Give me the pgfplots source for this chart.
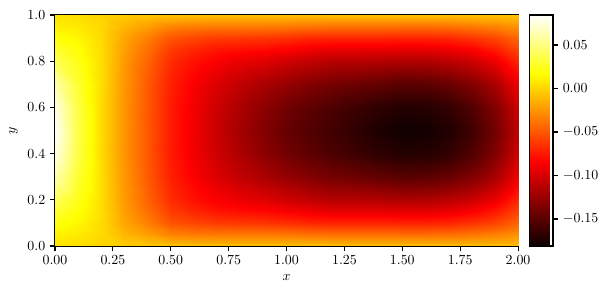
\documentclass[border=0pt]{standalone}
\usepackage{pgfplots}
\pgfplotsset{compat=1.18}
\begin{document}
\begin{tikzpicture}
\path[use as bounding box] (-39.6pt,-36pt) rectangle (396.7pt,177.1pt);
\begin{axis}[
  at={(0,0)}, anchor=south west,
  scale only axis, width=333.4pt, height=166.3pt,
  xmin=0, xmax=2, ymin=0, ymax=1,
  xtick={0,0.25,0.5,0.75,1,1.25,1.5,1.75,2},
  ytick={0,0.2,0.4,0.6,0.8,1},
  xticklabel style={/pgf/number format/.cd, fixed, fixed zerofill, precision=2},
  yticklabel style={/pgf/number format/.cd, fixed, fixed zerofill, precision=1},
  tick align=outside, tick pos=left, major tick length=3.5pt,
  tick style={line width=0.8pt, black},
  axis line style={line width=0.8pt},
  xlabel={$x$}, ylabel={$y$},
  colormap={hot}{rgb(0cm)=(0.0416,0,0) rgb(3.65cm)=(1,0,0) rgb(7.46cm)=(1,1,0) rgb(10cm)=(1,1,1)},
  point meta min=-0.181, point meta max=0.0845,
  colorbar,
  colorbar style={
    at={(parent axis.north east)}, anchor=north west, xshift=0pt,
    width=16.6pt,
    ytick={-0.15,-0.1,-0.05,0,0.05},
    yticklabel style={/pgf/number format/.cd, fixed, fixed zerofill, precision=2},
    ytick pos=right, yticklabel pos=right,
    tick align=outside, major tick length=3.5pt,
    tick style={line width=0.8pt, black},
    axis line style={line width=0.8pt},
  },
]
\addplot[surf, shader=interp, mesh/cols=21, point meta=explicit] coordinates {
(0,0)[0.006] (0.1,0)[0.004] (0.2,0)[0.000] (0.3,0)[-0.003] (0.4,0)[-0.005] (0.5,0)[-0.007] (0.6,0)[-0.008] (0.7,0)[-0.008] (0.8,0)[-0.008] (0.9,0)[-0.008] (1.0,0)[-0.008] (1.1,0)[-0.008] (1.2,0)[-0.008] (1.3,0)[-0.008] (1.4,0)[-0.008] (1.5,0)[-0.008] (1.6,0)[-0.008] (1.7,0)[-0.008] (1.8,0)[-0.008] (1.9,0)[-0.008] (2.0,0)[-0.008]

(0,0.05)[0.012] (0.1,0.05)[0.009] (0.2,0.05)[0.002] (0.3,0.05)[-0.012] (0.4,0.05)[-0.022] (0.5,0.05)[-0.033] (0.6,0.05)[-0.036] (0.7,0.05)[-0.037] (0.8,0.05)[-0.037] (0.9,0.05)[-0.037] (1.0,0.05)[-0.038] (1.1,0.05)[-0.040] (1.2,0.05)[-0.041] (1.3,0.05)[-0.041] (1.4,0.05)[-0.041] (1.5,0.05)[-0.042] (1.6,0.05)[-0.042] (1.7,0.05)[-0.041] (1.8,0.05)[-0.038] (1.9,0.05)[-0.034] (2.0,0.05)[-0.027]

(0,0.1)[0.020] (0.1,0.1)[0.014] (0.2,0.1)[0.003] (0.3,0.1)[-0.018] (0.4,0.1)[-0.034] (0.5,0.1)[-0.051] (0.6,0.1)[-0.057] (0.7,0.1)[-0.061] (0.8,0.1)[-0.062] (0.9,0.1)[-0.063] (1.0,0.1)[-0.066] (1.1,0.1)[-0.069] (1.2,0.1)[-0.070] (1.3,0.1)[-0.070] (1.4,0.1)[-0.070] (1.5,0.1)[-0.071] (1.6,0.1)[-0.071] (1.7,0.1)[-0.069] (1.8,0.1)[-0.064] (1.9,0.1)[-0.057] (2.0,0.1)[-0.044]

(0,0.15)[0.030] (0.1,0.15)[0.019] (0.2,0.15)[0.004] (0.3,0.15)[-0.021] (0.4,0.15)[-0.041] (0.5,0.15)[-0.061] (0.6,0.15)[-0.070] (0.7,0.15)[-0.077] (0.8,0.15)[-0.080] (0.9,0.15)[-0.082] (1.0,0.15)[-0.086] (1.1,0.15)[-0.091] (1.2,0.15)[-0.094] (1.3,0.15)[-0.094] (1.4,0.15)[-0.094] (1.5,0.15)[-0.095] (1.6,0.15)[-0.095] (1.7,0.15)[-0.092] (1.8,0.15)[-0.086] (1.9,0.15)[-0.075] (2.0,0.15)[-0.057]

(0,0.2)[0.040] (0.1,0.2)[0.023] (0.2,0.2)[0.004] (0.3,0.2)[-0.023] (0.4,0.2)[-0.045] (0.5,0.2)[-0.067] (0.6,0.2)[-0.078] (0.7,0.2)[-0.086] (0.8,0.2)[-0.092] (0.9,0.2)[-0.096] (1.0,0.2)[-0.103] (1.1,0.2)[-0.108] (1.2,0.2)[-0.113] (1.3,0.2)[-0.113] (1.4,0.2)[-0.114] (1.5,0.2)[-0.116] (1.6,0.2)[-0.115] (1.7,0.2)[-0.111] (1.8,0.2)[-0.104] (1.9,0.2)[-0.091] (2.0,0.2)[-0.069]

(0,0.3)[0.063] (0.1,0.3)[0.030] (0.2,0.3)[0.004] (0.3,0.3)[-0.024] (0.4,0.3)[-0.049] (0.5,0.3)[-0.072] (0.6,0.3)[-0.086] (0.7,0.3)[-0.098] (0.8,0.3)[-0.109] (0.9,0.3)[-0.117] (1.0,0.3)[-0.126] (1.1,0.3)[-0.133] (1.2,0.3)[-0.139] (1.3,0.3)[-0.142] (1.4,0.3)[-0.146] (1.5,0.3)[-0.150] (1.6,0.3)[-0.149] (1.7,0.3)[-0.144] (1.8,0.3)[-0.134] (1.9,0.3)[-0.118] (2.0,0.3)[-0.090]

(0,0.4)[0.077] (0.1,0.4)[0.035] (0.2,0.4)[0.003] (0.3,0.4)[-0.025] (0.4,0.4)[-0.050] (0.5,0.4)[-0.074] (0.6,0.4)[-0.089] (0.7,0.4)[-0.104] (0.8,0.4)[-0.117] (0.9,0.4)[-0.129] (1.0,0.4)[-0.140] (1.1,0.4)[-0.148] (1.2,0.4)[-0.155] (1.3,0.4)[-0.161] (1.4,0.4)[-0.167] (1.5,0.4)[-0.171] (1.6,0.4)[-0.170] (1.7,0.4)[-0.165] (1.8,0.4)[-0.153] (1.9,0.4)[-0.134] (2.0,0.4)[-0.104]

(0,0.5)[0.083] (0.1,0.5)[0.036] (0.2,0.5)[0.003] (0.3,0.5)[-0.025] (0.4,0.5)[-0.050] (0.5,0.5)[-0.074] (0.6,0.5)[-0.090] (0.7,0.5)[-0.106] (0.8,0.5)[-0.120] (0.9,0.5)[-0.133] (1.0,0.5)[-0.145] (1.1,0.5)[-0.153] (1.2,0.5)[-0.160] (1.3,0.5)[-0.167] (1.4,0.5)[-0.174] (1.5,0.5)[-0.179] (1.6,0.5)[-0.178] (1.7,0.5)[-0.172] (1.8,0.5)[-0.160] (1.9,0.5)[-0.140] (2.0,0.5)[-0.110]

(0,0.6)[0.077] (0.1,0.6)[0.035] (0.2,0.6)[0.003] (0.3,0.6)[-0.025] (0.4,0.6)[-0.050] (0.5,0.6)[-0.074] (0.6,0.6)[-0.089] (0.7,0.6)[-0.104] (0.8,0.6)[-0.117] (0.9,0.6)[-0.129] (1.0,0.6)[-0.140] (1.1,0.6)[-0.148] (1.2,0.6)[-0.155] (1.3,0.6)[-0.161] (1.4,0.6)[-0.167] (1.5,0.6)[-0.171] (1.6,0.6)[-0.170] (1.7,0.6)[-0.165] (1.8,0.6)[-0.153] (1.9,0.6)[-0.134] (2.0,0.6)[-0.104]

(0,0.7)[0.063] (0.1,0.7)[0.030] (0.2,0.7)[0.004] (0.3,0.7)[-0.024] (0.4,0.7)[-0.049] (0.5,0.7)[-0.072] (0.6,0.7)[-0.086] (0.7,0.7)[-0.098] (0.8,0.7)[-0.109] (0.9,0.7)[-0.117] (1.0,0.7)[-0.126] (1.1,0.7)[-0.133] (1.2,0.7)[-0.139] (1.3,0.7)[-0.142] (1.4,0.7)[-0.146] (1.5,0.7)[-0.150] (1.6,0.7)[-0.149] (1.7,0.7)[-0.144] (1.8,0.7)[-0.134] (1.9,0.7)[-0.118] (2.0,0.7)[-0.090]

(0,0.8)[0.040] (0.1,0.8)[0.023] (0.2,0.8)[0.004] (0.3,0.8)[-0.023] (0.4,0.8)[-0.045] (0.5,0.8)[-0.067] (0.6,0.8)[-0.078] (0.7,0.8)[-0.086] (0.8,0.8)[-0.092] (0.9,0.8)[-0.096] (1.0,0.8)[-0.103] (1.1,0.8)[-0.108] (1.2,0.8)[-0.113] (1.3,0.8)[-0.113] (1.4,0.8)[-0.114] (1.5,0.8)[-0.116] (1.6,0.8)[-0.115] (1.7,0.8)[-0.111] (1.8,0.8)[-0.104] (1.9,0.8)[-0.091] (2.0,0.8)[-0.069]

(0,0.85)[0.030] (0.1,0.85)[0.019] (0.2,0.85)[0.004] (0.3,0.85)[-0.021] (0.4,0.85)[-0.041] (0.5,0.85)[-0.061] (0.6,0.85)[-0.070] (0.7,0.85)[-0.077] (0.8,0.85)[-0.080] (0.9,0.85)[-0.082] (1.0,0.85)[-0.086] (1.1,0.85)[-0.091] (1.2,0.85)[-0.094] (1.3,0.85)[-0.094] (1.4,0.85)[-0.094] (1.5,0.85)[-0.095] (1.6,0.85)[-0.095] (1.7,0.85)[-0.092] (1.8,0.85)[-0.086] (1.9,0.85)[-0.075] (2.0,0.85)[-0.057]

(0,0.9)[0.020] (0.1,0.9)[0.014] (0.2,0.9)[0.003] (0.3,0.9)[-0.018] (0.4,0.9)[-0.034] (0.5,0.9)[-0.051] (0.6,0.9)[-0.057] (0.7,0.9)[-0.061] (0.8,0.9)[-0.062] (0.9,0.9)[-0.063] (1.0,0.9)[-0.066] (1.1,0.9)[-0.069] (1.2,0.9)[-0.070] (1.3,0.9)[-0.070] (1.4,0.9)[-0.070] (1.5,0.9)[-0.071] (1.6,0.9)[-0.071] (1.7,0.9)[-0.069] (1.8,0.9)[-0.064] (1.9,0.9)[-0.057] (2.0,0.9)[-0.044]

(0,0.95)[0.012] (0.1,0.95)[0.009] (0.2,0.95)[0.002] (0.3,0.95)[-0.012] (0.4,0.95)[-0.022] (0.5,0.95)[-0.033] (0.6,0.95)[-0.036] (0.7,0.95)[-0.037] (0.8,0.95)[-0.037] (0.9,0.95)[-0.037] (1.0,0.95)[-0.038] (1.1,0.95)[-0.040] (1.2,0.95)[-0.041] (1.3,0.95)[-0.041] (1.4,0.95)[-0.041] (1.5,0.95)[-0.042] (1.6,0.95)[-0.042] (1.7,0.95)[-0.041] (1.8,0.95)[-0.038] (1.9,0.95)[-0.034] (2.0,0.95)[-0.027]

(0,1)[0.006] (0.1,1)[0.004] (0.2,1)[0.000] (0.3,1)[-0.003] (0.4,1)[-0.005] (0.5,1)[-0.007] (0.6,1)[-0.008] (0.7,1)[-0.008] (0.8,1)[-0.008] (0.9,1)[-0.008] (1.0,1)[-0.008] (1.1,1)[-0.008] (1.2,1)[-0.008] (1.3,1)[-0.008] (1.4,1)[-0.008] (1.5,1)[-0.008] (1.6,1)[-0.008] (1.7,1)[-0.008] (1.8,1)[-0.008] (1.9,1)[-0.008] (2.0,1)[-0.008]
};
\end{axis}
\end{tikzpicture}
\end{document}
